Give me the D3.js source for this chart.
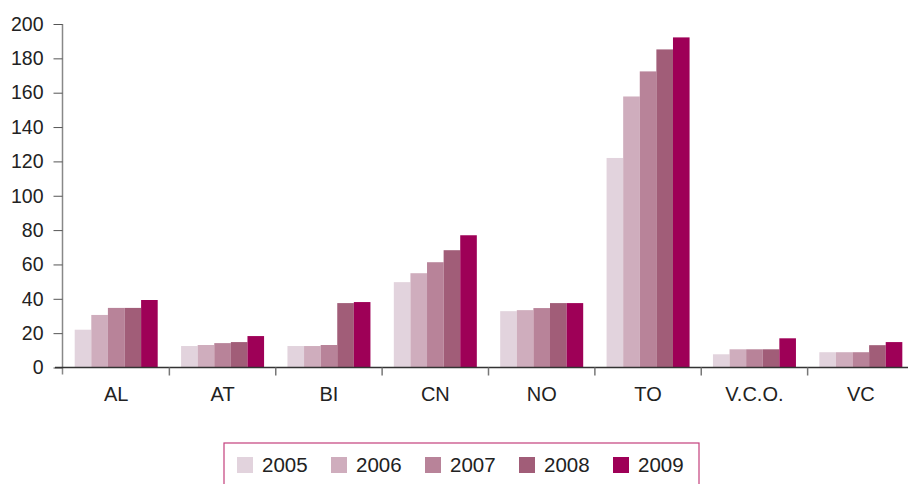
<!DOCTYPE html>
<html lang="en">
<head>
<meta charset="UTF-8">
<title>Grouped bars 2005-2009</title>
<script src="https://d3js.org/d3.v7.min.js"></script>
<style>
  body { margin: 0; background: #fff; }
  svg text { font-family: "Liberation Sans", Arial, sans-serif; fill: #222; }
</style>
</head>
<body>
<div id="chart"></div>
<script>
// categories and series
const provinces = ["AL", "AT", "BI", "CN", "NO", "TO", "V.C.O.", "VC"];
const years = ["2005", "2006", "2007", "2008", "2009"];
const colors = ["#e2d3dd", "#cfadbd", "#b88399", "#a15d78", "#9e0057"];
const values2005 = [22, 12.5, 12.5, 49.7, 32.8, 122, 7.7, 8.9];
const values2006 = [30.6, 13.1, 12.5, 54.9, 33.4, 157.8, 10.6, 8.9];
const values2007 = [34.7, 14.2, 13.1, 61.3, 34.6, 172.4, 10.6, 8.9];
const values2008 = [34.7, 14.8, 37.5, 68.3, 37.5, 185.2, 10.6, 13];
const values2009 = [39.3, 18.3, 38.1, 77, 37.5, 192.2, 17, 14.8];
const yTicks = [0, 20, 40, 60, 80, 100, 120, 140, 160, 180, 200];

const series = [values2005, values2006, values2007, values2008, values2009];

const W = 908, H = 484;
const svg = d3.select("#chart").append("svg")
  .attr("width", W).attr("height", H);

// scales
const x0 = d3.scaleBand().domain(provinces).range([63, 914]);
const x1 = d3.scaleBand().domain(years).range([11.7, 94.7]);
const y = d3.scaleLinear().domain([0, 200]).range([367.5, 24]);

// bars
const groups = svg.selectAll("g.group")
  .data(provinces)
  .enter().append("g")
  .attr("class", "group")
  .attr("transform", d => `translate(${x0(d)},0)`);

groups.selectAll("rect")
  .data((p, i) => years.map((yr, j) => ({ year: yr, value: series[j][i], color: colors[j] })))
  .enter().append("rect")
  .attr("x", d => x1(d.year))
  .attr("width", x1.bandwidth())
  .attr("y", d => y(d.value))
  .attr("height", d => y(0) - y(d.value))
  .attr("fill", d => d.color);

// y axis
const yAxis = svg.append("g")
  .attr("transform", "translate(62.5,0)")
  .call(d3.axisLeft(y).tickValues(yTicks).tickSize(9).tickPadding(10));
yAxis.select(".domain").attr("stroke", "#888").attr("stroke-width", 1.5)
  .attr("d", `M0,${y(200)}V${y(0) + 7}`);
yAxis.selectAll(".tick line").attr("stroke", "#555");
yAxis.selectAll(".tick text")
  .style("font-size", "19.5px").attr("fill", "#222");

// x axis
const xAxis = svg.append("g")
  .attr("transform", `translate(0,${y(0)})`)
  .call(d3.axisBottom(x0).tickSize(0).tickPadding(19.5));
xAxis.select(".domain").attr("stroke", "#333").attr("stroke-width", 1.5)
  .attr("d", `M55,0H914`);
xAxis.selectAll(".tick text").style("font-size", "20px").attr("fill", "#222");

// category separators below the axis
svg.append("g").selectAll("line")
  .data(provinces.slice(1))
  .enter().append("line")
  .attr("x1", d => x0(d)).attr("x2", d => x0(d))
  .attr("y1", y(0)).attr("y2", y(0) + 8)
  .attr("stroke", "#777").attr("stroke-width", 1.5);

// legend
const legend = svg.append("g").attr("transform", "translate(224,443)");
legend.append("rect")
  .attr("x", 0).attr("y", 0).attr("width", 475).attr("height", 60)
  .attr("fill", "none").attr("stroke", "#c4407c").attr("stroke-width", 1.2);

const items = legend.selectAll("g.item")
  .data(years)
  .enter().append("g")
  .attr("class", "item")
  .attr("transform", (d, i) => `translate(${13 + i * 94},14)`);
items.append("rect")
  .attr("width", 16).attr("height", 16)
  .attr("fill", (d, i) => colors[i]);
items.append("text")
  .attr("x", 25).attr("y", 15)
  .style("font-size", "20.5px")
  .text(d => d);
</script>
</body>
</html>
